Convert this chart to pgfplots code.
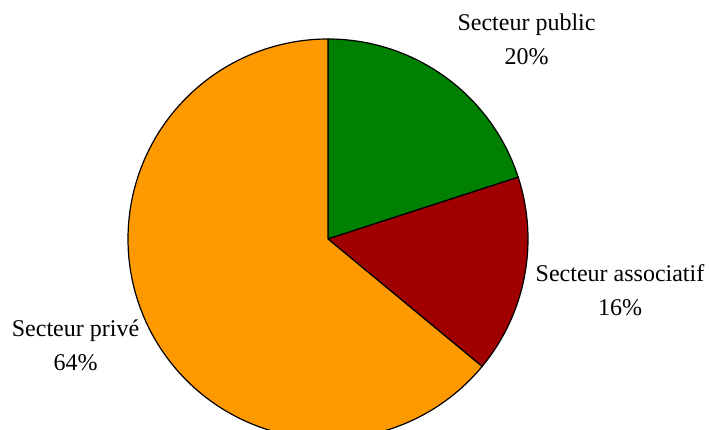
\documentclass[border=0pt]{standalone}
\usepackage{fontspec}
\setmainfont{Liberation Serif}
\usepackage{pgfplots}
\pgfplotsset{compat=1.18}
\definecolor{cpub}{HTML}{008000}
\definecolor{cass}{HTML}{A00000}
\definecolor{cpri}{HTML}{FF9900}
% shares (percent)
\def\vpub{20}
\def\vass{16}
\def\vpri{64}
\pgfmathsetmacro{\aA}{90}
\pgfmathsetmacro{\aB}{90-3.6*\vpub}
\pgfmathsetmacro{\aC}{\aB-3.6*\vass}
\pgfmathsetmacro{\aD}{\aC-3.6*\vpri}
\begin{document}
\begin{tikzpicture}
\begin{axis}[scale only axis, width=709pt, height=430pt,
  xmin=0, xmax=709, ymin=0, ymax=430, hide axis, clip=true]
\path (0,0) rectangle (709,430);
\addplot[fill=cpub, draw=black, line width=1.2pt, line join=round, domain=\aB:\aA, samples=80, variable=\t]
  ({328+200*cos(t)},{191+200*sin(t)}) -- (328,191) -- cycle;
\addplot[fill=cass, draw=black, line width=1.2pt, line join=round, domain=\aC:\aB, samples=80, variable=\t]
  ({328+200*cos(t)},{191+200*sin(t)}) -- (328,191) -- cycle;
\addplot[fill=cpri, draw=black, line width=1.2pt, line join=round, domain=\aD:\aC, samples=200, variable=\t]
  ({328+200*cos(t)},{191+200*sin(t)}) -- (328,191) -- cycle;
\node[anchor=base, font=\fontsize{24}{28}\selectfont] at (526.5,399) {Secteur public};
\node[anchor=base, font=\fontsize{24}{28}\selectfont] at (526.5,365.5) {\vpub\%};
\node[anchor=base, font=\fontsize{24}{28}\selectfont] at (620,148) {Secteur associatif};
\node[anchor=base, font=\fontsize{24}{28}\selectfont] at (620,114.5) {\vass\%};
\node[anchor=base, font=\fontsize{24}{28}\selectfont] at (75.5,93) {Secteur privé};
\node[anchor=base, font=\fontsize{24}{28}\selectfont] at (75.5,59) {\vpri\%};
\end{axis}
\end{tikzpicture}
\end{document}
